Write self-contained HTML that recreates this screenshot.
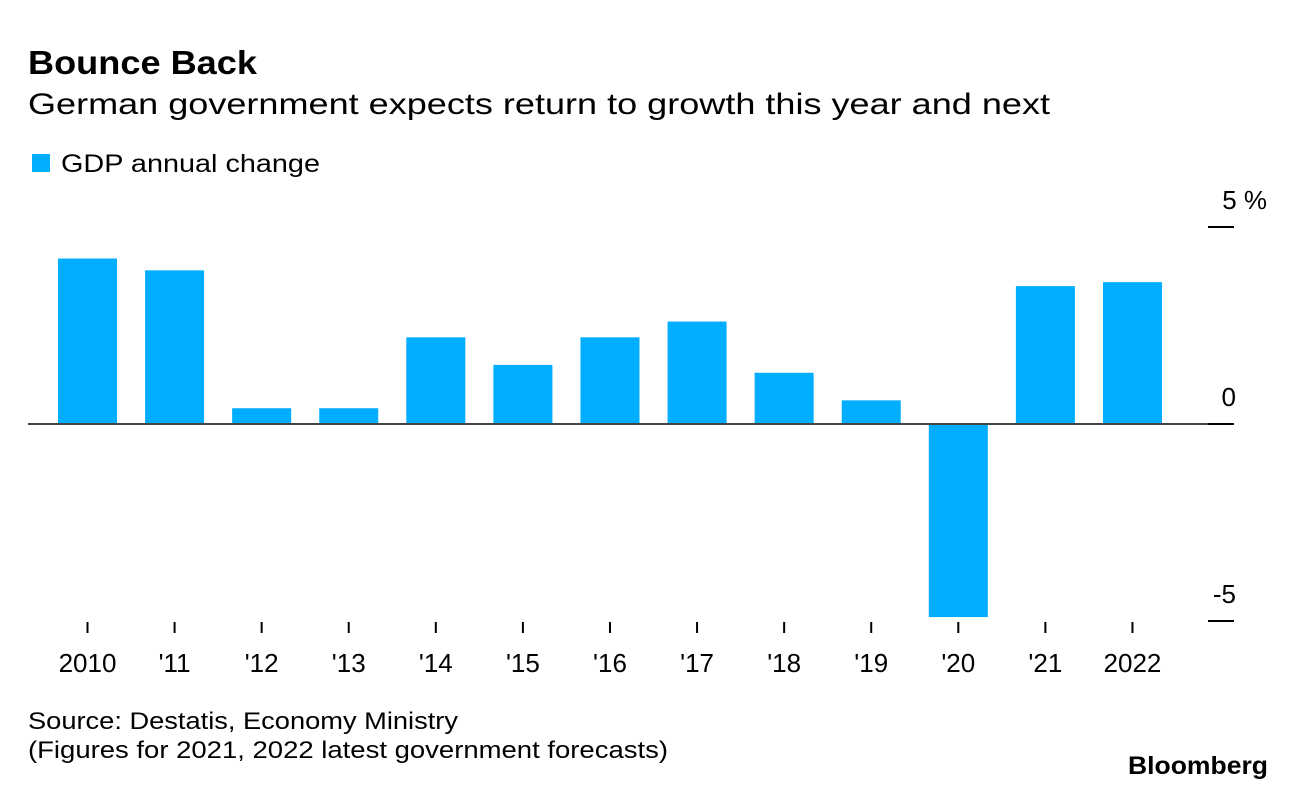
<!DOCTYPE html>
<html><head><meta charset="utf-8"><style>
body{margin:0;background:#fff;font-family:"Liberation Sans",sans-serif;}
svg{display:block}
</style></head><body>
<svg width="1296" height="790" font-family="Liberation Sans, sans-serif">
<text x="28" y="74" font-size="33" font-weight="bold" fill="#000" textLength="229" lengthAdjust="spacingAndGlyphs">Bounce Back</text>
<text x="28" y="114" font-size="30" fill="#000" textLength="1022" lengthAdjust="spacingAndGlyphs">German government expects return to growth this year and next</text>
<rect x="32" y="154" width="18" height="18" fill="#00adff"/>
<text x="61" y="172" font-size="25" fill="#000" textLength="259" lengthAdjust="spacingAndGlyphs">GDP annual change</text>
<g id="bars"></g>
<g id="axes"></g>
<text x="28" y="729" font-size="24" fill="#000" textLength="430" lengthAdjust="spacingAndGlyphs">Source: Destatis, Economy Ministry</text>
<text x="28" y="758" font-size="24" fill="#000" textLength="640" lengthAdjust="spacingAndGlyphs">(Figures for 2021, 2022 latest government forecasts)</text>
<text x="1128" y="774" font-size="25" font-weight="bold" fill="#000" textLength="140" lengthAdjust="spacingAndGlyphs">Bloomberg</text>
</svg>
<script>
const categories=["2010","'11","'12","'13","'14","'15","'16","'17","'18","'19","'20","'21","2022"];
const values=[4.2,3.9,0.4,0.4,2.2,1.5,2.2,2.6,1.3,0.6,-4.9,3.5,3.6];
const yTicks=[5,0,-5];
const yTickLabels=["5 %","0","-5"];
const NS="http://www.w3.org/2000/svg";
const y=v=>424-v*39.4;
const x=i=>87.5+i*87.08;
const bw=59;
const bars=document.getElementById('bars'),axes=document.getElementById('axes');
function mk(tag,attrs,parent){const e=document.createElementNS(NS,tag);for(const k in attrs)e.setAttribute(k,attrs[k]);parent.appendChild(e);return e;}
values.forEach((v,i)=>{
 const r=mk('rect',{x:x(i)-bw/2,y:Math.min(y(v),y(0)),width:bw,height:Math.abs(y(v)-y(0)),fill:'#00adff'},bars);
 
 
 const t=mk('line',{x1:x(i),x2:x(i),y1:622,y2:633,stroke:'#000','stroke-width':2},axes);
 
 
 const l=mk('text',{x:x(i),y:672,'font-size':26,'text-anchor':'middle',fill:'#000'},axes);
 l.textContent=categories[i];
 
 
});
const zl=mk('line',{x1:28,x2:1208,y1:y(0),y2:y(0),stroke:'#444','stroke-width':2},axes);


yTicks.forEach((v,i)=>{
 const t=mk('line',{x1:1208,x2:1234,y1:y(v),y2:y(v),stroke:'#000','stroke-width':2},axes);
 
 
 const l=mk('text',{x:1236,y:y(v)-18,'font-size':26,'text-anchor':'end',fill:'#000'},axes);
 if(i===0){l.setAttribute('x',1267);}
 l.textContent=yTickLabels[i];
 
 
});
</script>
</body></html>
